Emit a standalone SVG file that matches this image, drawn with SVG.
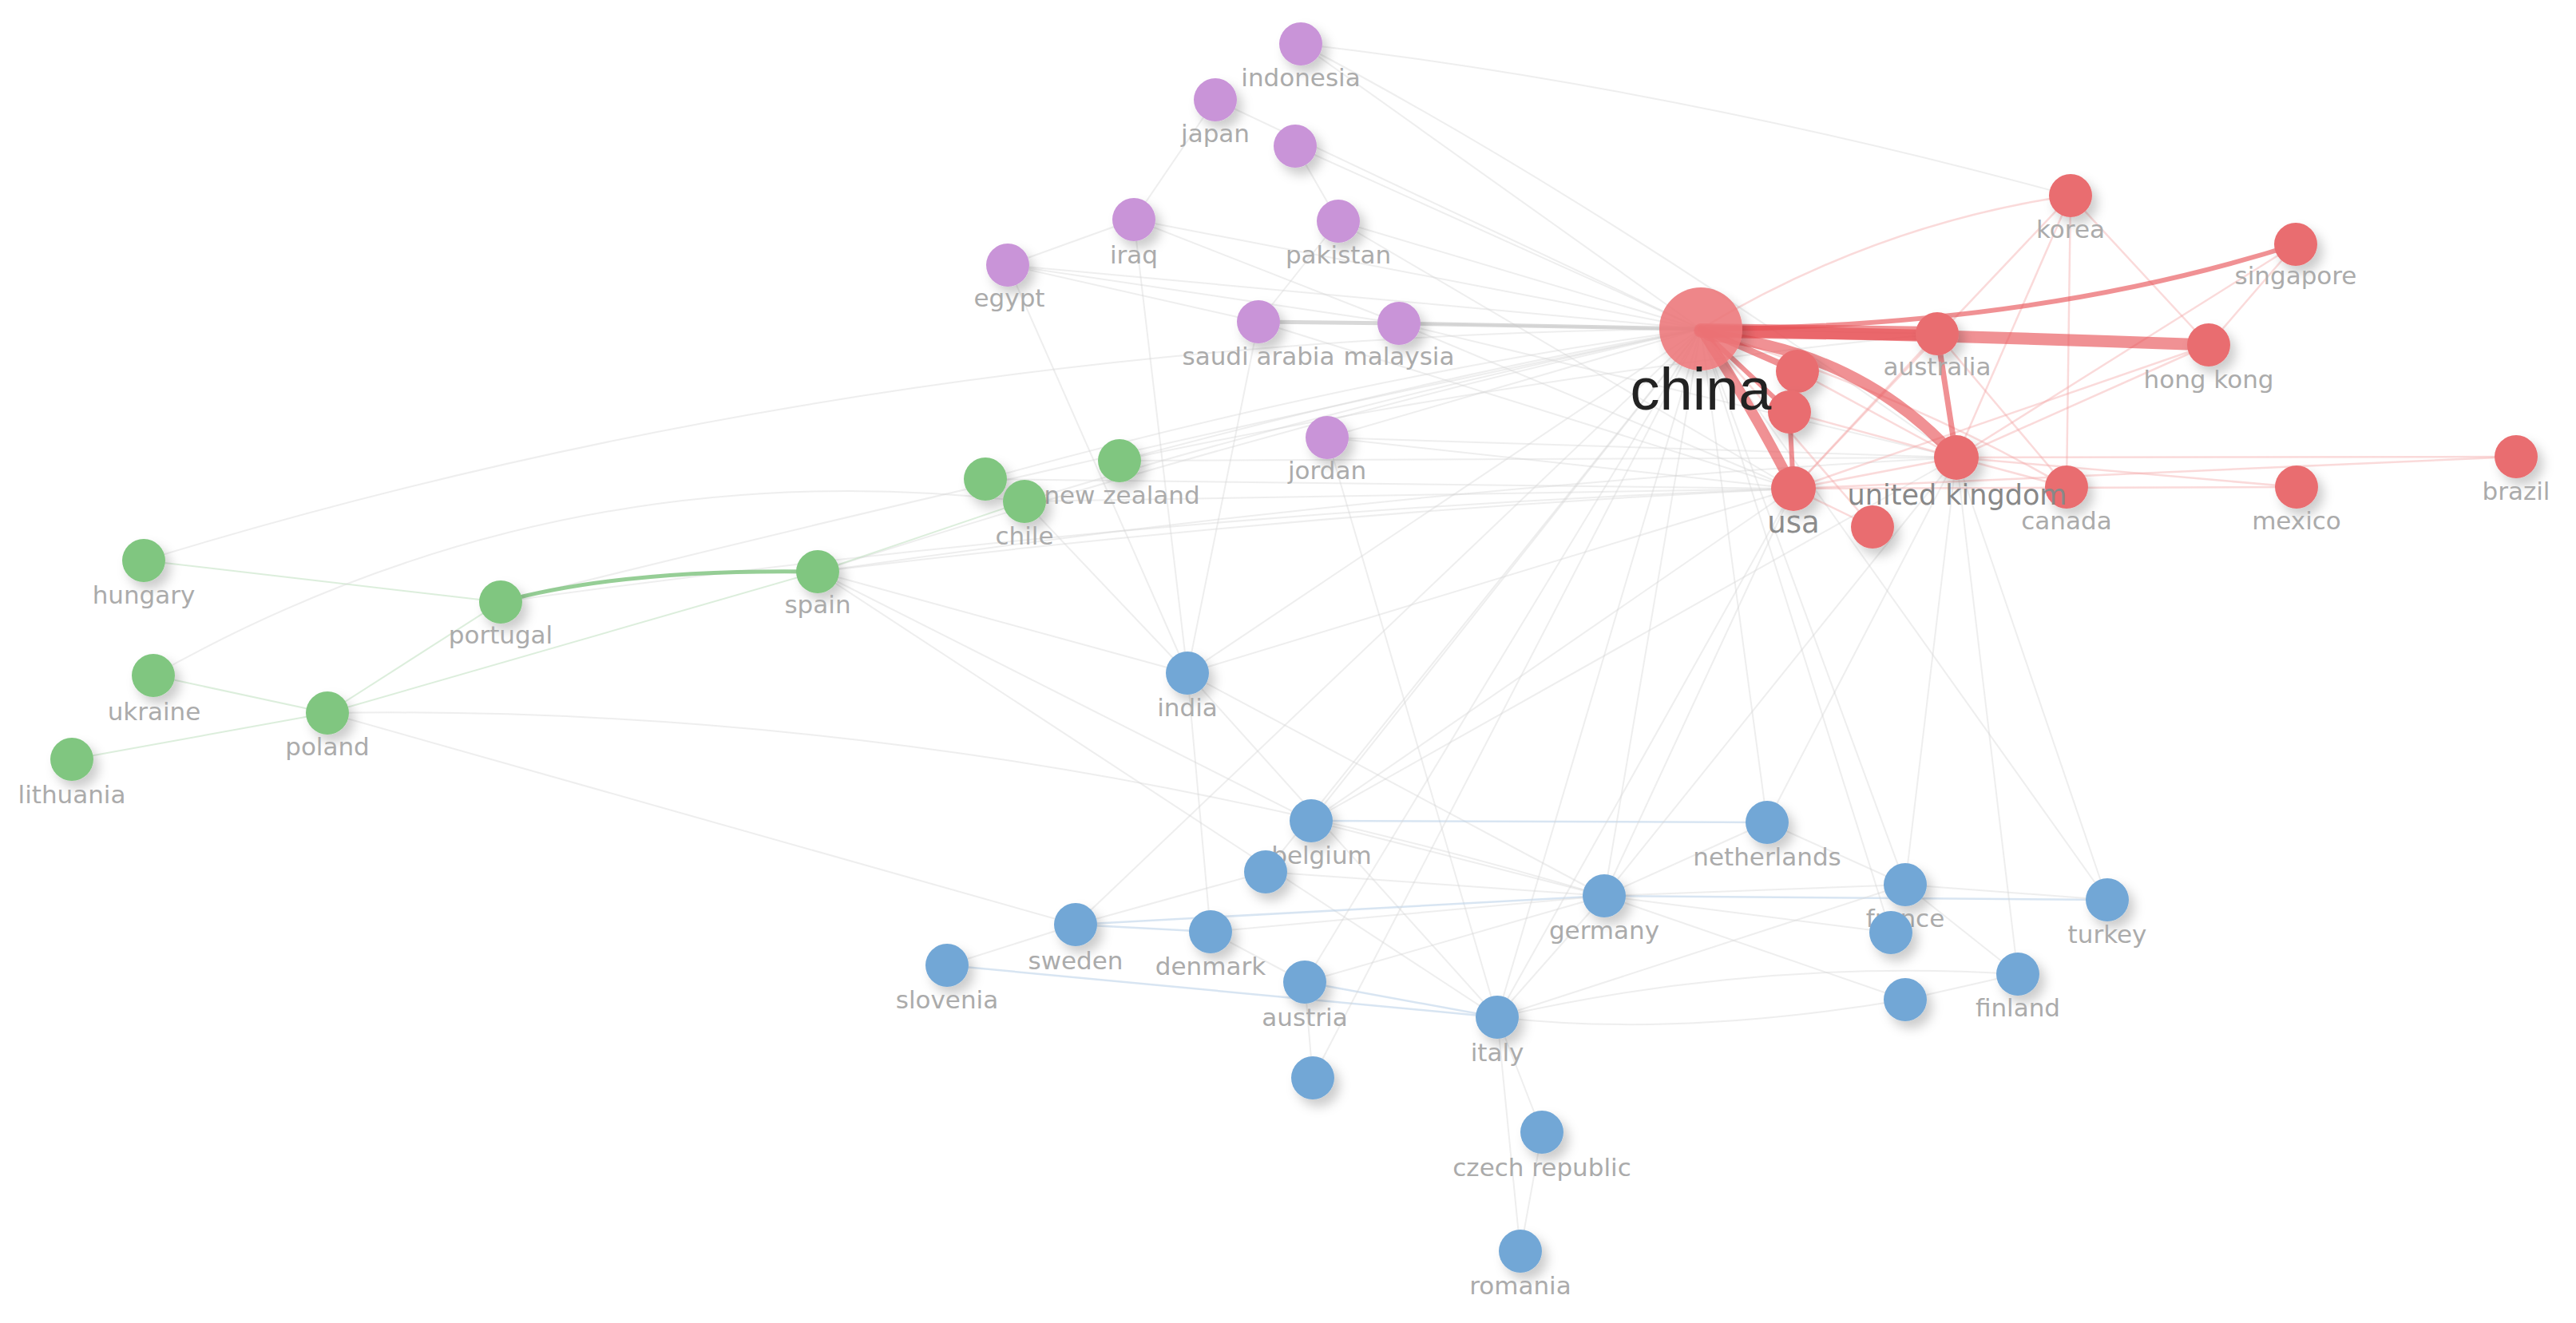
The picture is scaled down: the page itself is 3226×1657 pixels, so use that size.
<svg xmlns="http://www.w3.org/2000/svg" width="3226" height="1657" viewBox="0 0 3226 1657">
<defs>
<filter id="sh" x="-60%" y="-60%" width="240%" height="240%">
<feDropShadow dx="7" dy="9" stdDeviation="7" flood-color="#000" flood-opacity="0.2"/>
</filter>
<style>
.e{fill:none;stroke:#d6d6d6;stroke-width:2;opacity:.42}
.er{fill:none;stroke:#f3a6a8;stroke-width:2.5;opacity:.42}
.eb{fill:none;stroke:#b8d0e8;stroke-width:2.5;opacity:.55}
.eg{fill:none;stroke:#bfe0bf;stroke-width:2;opacity:.55}
.R{fill:none;stroke:#e64d52;opacity:.62;stroke-linecap:round}
.p{fill:#c994d8}
.r{fill:#e96d70}
.g{fill:#80c680}
.b{fill:#72a7d6}
circle{filter:url(#sh)}
.l{font-family:"DejaVu Sans",sans-serif;font-size:31px;fill:#ababab;text-anchor:middle}
</style>
</defs>
<rect width="3226" height="1657" fill="#ffffff"/>
<g id="connectors">
<path class="e" d="M1629 55 Q2100 110 2593 245"/>
<path class="e" d="M1629 55 L2130 412"/>
<path class="e" d="M1629 55 Q2000 250 2450 573"/>
<path class="e" d="M1522 125 L1420 275"/>
<path class="e" d="M1522 125 L2130 412"/>
<path class="e" d="M1622 183 L1676 277"/>
<path class="e" d="M1622 183 L2130 412"/>
<path class="e" d="M1420 275 L1262 332"/>
<path class="e" d="M1420 275 L2130 412"/>
<path class="e" d="M1420 275 L1752 405"/>
<path class="e" d="M1420 275 L1487 843"/>
<path class="e" d="M1262 332 L1576 403"/>
<path class="e" d="M1262 332 L2130 412"/>
<path class="e" d="M1262 332 L1752 405"/>
<path class="e" d="M1262 332 L1487 843"/>
<path class="e" d="M1676 277 L1576 403"/>
<path class="e" d="M1676 277 L2130 412"/>
<path class="e" d="M1676 277 L2246 612"/>
<path class="e" d="M1576 403 L2246 612"/>
<path class="e" d="M1576 403 L1487 843"/>
<path class="e" d="M1752 405 L2450 573"/>
<path class="e" d="M1752 405 L2426 418"/>
<path class="e" d="M1752 405 L2246 612"/>
<path class="e" d="M1662 548 L2130 412"/>
<path class="e" d="M1662 548 L2246 612"/>
<path class="e" d="M1662 548 L1875 1274"/>
<path class="e" d="M1662 548 L2450 573"/>
<path class="eg" d="M180 702 L627 754"/>
<path class="e" d="M180 702 Q1100 420 2130 412"/>
<path class="eg" d="M192 846 L410 893"/>
<path class="eg" d="M90 951 L410 893"/>
<path class="e" d="M192 846 Q700 560 1283 628"/>
<path class="eg" d="M410 893 L627 754"/>
<path class="eg" d="M410 893 L1024 716"/>
<path class="e" d="M410 893 Q1200 880 2009 1122"/>
<path class="e" d="M410 893 L1347 1158"/>
<path class="e" d="M627 754 Q1400 560 2130 412"/>
<path class="e" d="M627 754 Q1450 640 2246 612"/>
<path class="e" d="M1024 716 Q1600 530 2130 412"/>
<path class="e" d="M1024 716 Q1650 640 2246 612"/>
<path class="e" d="M1024 716 Q1750 610 2450 573"/>
<path class="e" d="M1024 716 L1642 1028"/>
<path class="e" d="M1024 716 L1875 1274"/>
<path class="e" d="M1024 716 L1487 843"/>
<path class="eg" d="M1024 716 L1283 628"/>
<path class="e" d="M1402 577 Q1800 470 2130 412"/>
<path class="e" d="M1402 577 Q1900 470 2426 418"/>
<path class="e" d="M1402 577 L2450 573"/>
<path class="e" d="M1234 600 Q1700 470 2130 412"/>
<path class="e" d="M1234 600 L2246 612"/>
<path class="e" d="M1283 628 Q1700 500 2130 412"/>
<path class="e" d="M1283 628 L2246 612"/>
<path class="e" d="M1283 628 L1487 843"/>
<path class="e" d="M1487 843 L2130 412"/>
<path class="e" d="M1487 843 L2246 612"/>
<path class="e" d="M1487 843 L1875 1274"/>
<path class="e" d="M1487 843 L2009 1122"/>
<path class="e" d="M1487 843 L1516 1167"/>
<path class="eb" d="M1642 1028 L2213 1030"/>
<path class="e" d="M1642 1028 L2009 1122"/>
<path class="e" d="M1642 1028 L2130 412"/>
<path class="e" d="M1642 1028 L2246 612"/>
<path class="e" d="M1642 1028 L2450 573"/>
<path class="e" d="M1585 1092 L2009 1122"/>
<path class="e" d="M1585 1092 L1347 1158"/>
<path class="e" d="M1585 1092 L2130 412"/>
<path class="e" d="M2213 1030 L2450 573"/>
<path class="e" d="M2213 1030 L2386 1108"/>
<path class="e" d="M2213 1030 L2009 1122"/>
<path class="e" d="M2213 1030 L2130 412"/>
<path class="eb" d="M2009 1122 L2639 1127"/>
<path class="e" d="M2009 1122 L2130 412"/>
<path class="e" d="M2009 1122 L2246 612"/>
<path class="e" d="M2009 1122 L2450 573"/>
<path class="e" d="M2009 1122 L2386 1108"/>
<path class="e" d="M2009 1122 L1875 1274"/>
<path class="e" d="M2009 1122 L1634 1230"/>
<path class="eb" d="M1347 1158 L2009 1122"/>
<path class="eb" d="M1347 1158 L1516 1167"/>
<path class="e" d="M1347 1158 L2130 412"/>
<path class="e" d="M1347 1158 L1186 1209"/>
<path class="e" d="M1516 1167 L1634 1230"/>
<path class="e" d="M1516 1167 L2009 1122"/>
<path class="eb" d="M1186 1209 L1875 1274"/>
<path class="eb" d="M1634 1230 L1875 1274"/>
<path class="e" d="M1634 1230 L2130 412"/>
<path class="e" d="M1634 1230 L1644 1350"/>
<path class="e" d="M2527 1220 L2386 1252"/>
<path class="e" d="M2527 1220 L2450 573"/>
<path class="e" d="M2527 1220 L2386 1108"/>
<path class="e" d="M2386 1252 L2009 1122"/>
<path class="e" d="M2386 1252 Q2100 1300 1875 1274"/>
<path class="e" d="M2386 1108 L2639 1127"/>
<path class="e" d="M2386 1108 L2130 412"/>
<path class="e" d="M2386 1108 L2450 573"/>
<path class="e" d="M2368 1168 L2009 1122"/>
<path class="e" d="M2368 1168 L2130 412"/>
<path class="e" d="M2639 1127 L2130 412"/>
<path class="e" d="M2639 1127 L2450 573"/>
<path class="e" d="M1875 1274 L2386 1108"/>
<path class="e" d="M1875 1274 L1931 1418"/>
<path class="e" d="M1875 1274 L2130 412"/>
<path class="e" d="M1875 1274 L2246 612"/>
<path class="e" d="M1875 1274 Q2200 1200 2527 1220"/>
<path class="e" d="M1931 1418 L1904 1567"/>
<path class="e" d="M1904 1567 L1875 1274"/>
<path class="e" d="M1644 1350 L2130 412"/>
<path class="er" d="M2130 412 Q2350 280 2593 245"/>
<path class="er" d="M2593 245 L2588 610"/>
<path class="er" d="M2593 245 L2450 573"/>
<path class="er" d="M2593 245 L2766 432"/>
<path class="er" d="M2593 245 L2246 612"/>
<path class="er" d="M2875 306 L2766 432"/>
<path class="er" d="M2875 306 L2450 573"/>
<path class="er" d="M2426 418 L2588 610"/>
<path class="er" d="M2766 432 L2450 573"/>
<path class="er" d="M2766 432 L2246 612"/>
<path class="er" d="M2450 573 L2588 610"/>
<path class="er" d="M2450 573 L2876 610"/>
<path class="er" d="M2450 573 L3151 572"/>
<path class="er" d="M2246 612 L2876 610"/>
<path class="er" d="M2246 612 L3151 572"/>
<path class="er" d="M2246 612 L2345 660"/>
<path class="er" d="M2130 412 L2345 660"/>
<path class="er" d="M2246 612 L2450 573"/>
<path class="er" d="M2130 412 Q2400 500 2588 610"/>
<path class="er" d="M2241 516 L2450 573"/>
<path class="er" d="M2251 465 L2450 573"/>
<path class="er" d="M2426 418 L2246 612"/>
<path fill="none" stroke="#c8c8c8" stroke-width="5" opacity=".7" d="M1576 403 L1752 405"/>
<path fill="none" stroke="#c8c8c8" stroke-width="5" opacity=".7" d="M1752 405 L2130 412"/>
<path fill="none" stroke="#7cc27c" stroke-width="5" opacity=".8" d="M627 754 Q780 712 1024 716"/>
<path class="R" stroke-width="18" d="M2130 414 L2426 418"/>
<path class="R" stroke-width="15" d="M2130 414 Q2450 420 2766 432"/>
<path class="R" stroke-width="6" d="M2130 412 Q2550 410 2875 306"/>
<path class="R" stroke-width="14" d="M2140 420 Q2330 440 2450 573"/>
<path class="R" stroke-width="13" d="M2135 420 Q2200 520 2246 612"/>
<path class="R" stroke-width="8" d="M2130 412 L2251 465"/>
<path class="R" stroke-width="6" d="M2130 412 L2241 516"/>
<path class="R" stroke-width="6" d="M2241 516 L2246 612"/>
<path class="R" stroke-width="4" d="M2251 465 L2241 516"/>
<path class="R" stroke-width="7" d="M2426 418 L2450 573"/>
</g>
<g id="n-indonesia"><circle class="p" cx="1629" cy="55" r="27"/><text class="l" x="1629" y="108">indonesia</text></g>
<g id="n-japan"><circle class="p" cx="1522" cy="125" r="27"/><text class="l" x="1522" y="178">japan</text></g>
<g id="n-p3"><circle class="p" cx="1622" cy="183" r="27"/></g>
<g id="n-iraq"><circle class="p" cx="1420" cy="275" r="27"/><text class="l" x="1420" y="330">iraq</text></g>
<g id="n-pakistan"><circle class="p" cx="1676" cy="277" r="27"/><text class="l" x="1676" y="330">pakistan</text></g>
<g id="n-egypt"><circle class="p" cx="1262" cy="332" r="27"/><text class="l" x="1264" y="384">egypt</text></g>
<g id="n-saudi-arabia"><circle class="p" cx="1576" cy="403" r="27"/><text class="l" x="1576" y="457">saudi arabia</text></g>
<g id="n-malaysia"><circle class="p" cx="1752" cy="405" r="27"/><text class="l" x="1752" y="457">malaysia</text></g>
<g id="n-jordan"><circle class="p" cx="1662" cy="548" r="27"/><text class="l" x="1662" y="600">jordan</text></g>
<g id="n-korea"><circle class="r" cx="2593" cy="245" r="27"/><text class="l" x="2593" y="298">korea</text></g>
<g id="n-singapore"><circle class="r" cx="2875" cy="306" r="27"/><text class="l" x="2875" y="356">singapore</text></g>
<g id="n-hong-kong"><circle class="r" cx="2766" cy="432" r="27"/><text class="l" x="2766" y="486">hong kong</text></g>
<g id="n-brazil"><circle class="r" cx="3151" cy="572" r="27"/><text class="l" x="3151" y="626">brazil</text></g>
<g id="n-mexico"><circle class="r" cx="2876" cy="610" r="27"/><text class="l" x="2876" y="663">mexico</text></g>
<g id="n-canada"><circle class="r" cx="2588" cy="610" r="27"/><text class="l" x="2588" y="663">canada</text></g>
<g id="n-australia"><circle class="r" cx="2426" cy="418" r="27"/><text class="l" x="2426" y="470">australia</text></g>
<g id="n-r5"><circle class="r" cx="2251" cy="465" r="27"/></g>
<g id="n-r6"><circle class="r" cx="2241" cy="516" r="27"/></g>
<g id="n-united-kingdom"><circle class="r" cx="2450" cy="573" r="28"/><text class="l" x="2451" y="632" style="font-size:35px;fill:#888">united kingdom</text></g>
<g id="n-usa"><circle class="r" cx="2246" cy="612" r="28"/><text class="l" x="2246" y="667" style="font-size:37px;fill:#8c8c8c">usa</text></g>
<g id="n-r12"><circle class="r" cx="2345" cy="660" r="27"/></g>
<g id="n-china"><circle cx="2130" cy="412" r="52" fill="#ec7679" opacity=".88"/><text x="2130" y="513" style="font-family:'Liberation Sans',Arial,sans-serif;font-size:74px;fill:#222;text-anchor:middle">china</text></g>
<g id="n-hungary"><circle class="g" cx="180" cy="702" r="27"/><text class="l" x="180" y="756">hungary</text></g>
<g id="n-portugal"><circle class="g" cx="627" cy="754" r="27"/><text class="l" x="627" y="806">portugal</text></g>
<g id="n-spain"><circle class="g" cx="1024" cy="716" r="27"/><text class="l" x="1024" y="768">spain</text></g>
<g id="n-ukraine"><circle class="g" cx="192" cy="846" r="27"/><text class="l" x="193" y="902">ukraine</text></g>
<g id="n-poland"><circle class="g" cx="410" cy="893" r="27"/><text class="l" x="410" y="946">poland</text></g>
<g id="n-lithuania"><circle class="g" cx="90" cy="951" r="27"/><text class="l" x="90" y="1006">lithuania</text></g>
<g id="n-new-zealand"><circle class="g" cx="1402" cy="577" r="27"/><text class="l" x="1405" y="631">new zealand</text></g>
<g id="n-g2"><circle class="g" cx="1234" cy="600" r="27"/></g>
<g id="n-chile"><circle class="g" cx="1283" cy="628" r="27"/><text class="l" x="1283" y="682">chile</text></g>
<g id="n-india"><circle class="b" cx="1487" cy="843" r="27"/><text class="l" x="1487" y="897">india</text></g>
<g id="n-belgium"><circle class="b" cx="1642" cy="1028" r="27"/><text class="l" x="1655" y="1082">belgium</text></g>
<g id="n-b3"><circle class="b" cx="1585" cy="1092" r="27"/></g>
<g id="n-netherlands"><circle class="b" cx="2213" cy="1030" r="27"/><text class="l" x="2213" y="1084">netherlands</text></g>
<g id="n-germany"><circle class="b" cx="2009" cy="1122" r="27"/><text class="l" x="2009" y="1176">germany</text></g>
<g id="n-france"><circle class="b" cx="2386" cy="1108" r="27"/><text class="l" x="2386" y="1161">france</text></g>
<g id="n-b7"><circle class="b" cx="2368" cy="1168" r="27"/></g>
<g id="n-turkey"><circle class="b" cx="2639" cy="1127" r="27"/><text class="l" x="2639" y="1181">turkey</text></g>
<g id="n-sweden"><circle class="b" cx="1347" cy="1158" r="27"/><text class="l" x="1347" y="1214">sweden</text></g>
<g id="n-denmark"><circle class="b" cx="1516" cy="1167" r="27"/><text class="l" x="1516" y="1221">denmark</text></g>
<g id="n-slovenia"><circle class="b" cx="1186" cy="1209" r="27"/><text class="l" x="1186" y="1263">slovenia</text></g>
<g id="n-austria"><circle class="b" cx="1634" cy="1230" r="27"/><text class="l" x="1634" y="1285">austria</text></g>
<g id="n-finland"><circle class="b" cx="2527" cy="1220" r="27"/><text class="l" x="2527" y="1273">finland</text></g>
<g id="n-b14"><circle class="b" cx="2386" cy="1252" r="27"/></g>
<g id="n-italy"><circle class="b" cx="1875" cy="1274" r="27"/><text class="l" x="1875" y="1329">italy</text></g>
<g id="n-b16"><circle class="b" cx="1644" cy="1350" r="27"/></g>
<g id="n-czech-republic"><circle class="b" cx="1931" cy="1418" r="27"/><text class="l" x="1931" y="1473">czech republic</text></g>
<g id="n-romania"><circle class="b" cx="1904" cy="1567" r="27"/><text class="l" x="1904" y="1621">romania</text></g>
</svg>
